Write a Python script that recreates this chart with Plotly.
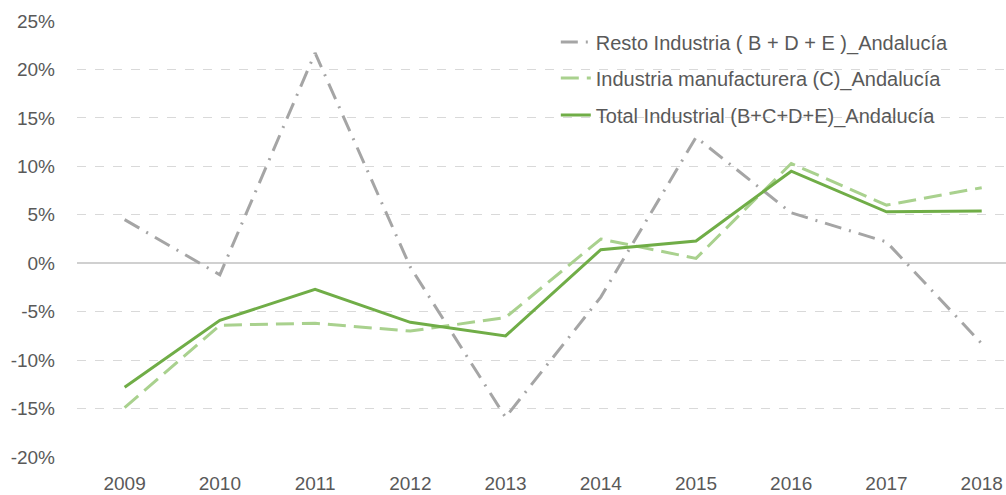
import plotly.graph_objects as go

years = ["2009", "2010", "2011", "2012", "2013", "2014", "2015", "2016", "2017", "2018"]
resto = [0.045, -0.012, 0.217, -0.004, -0.159, -0.035, 0.130, 0.052, 0.022, -0.083]
manuf = [-0.149, -0.064, -0.062, -0.070, -0.056, 0.025, 0.005, 0.103, 0.060, 0.078]
total = [-0.128, -0.059, -0.027, -0.061, -0.075, 0.014, 0.023, 0.095, 0.053, 0.054]

y_ticks = [-0.20, -0.15, -0.10, -0.05, 0.0, 0.05, 0.10, 0.15, 0.20, 0.25]
y_labels = ["-20%", "-15%", "-10%", "-5%", "0%", "5%", "10%", "15%", "20%", "25%"]

names = [
    "Resto Industria ( B + D + E )_Andalucía",
    "Industria manufacturera (C)_Andalucía",
    "Total Industrial (B+C+D+E)_Andalucía",
]

FONT = "Liberation Sans"
TXT = "#595959"
W, H = 1006, 495
L, R, T, B = 77.4, 0, 21, 38
PW, PH = W - L - R, H - T - B

fig = go.Figure()
fig.add_trace(go.Scatter(x=years, y=resto, mode="lines", name=names[0],
                         line=dict(color="#a5a5a5", width=3, dash="17px,8px,2px,8px"),
                         legend="legend", showlegend=True))
fig.add_trace(go.Scatter(x=years, y=manuf, mode="lines", name=names[1],
                         line=dict(color="#a9d18e", width=3, dash="18px,8px"),
                         legend="legend2", showlegend=True))
fig.add_trace(go.Scatter(x=years, y=total, mode="lines", name=names[2],
                         line=dict(color="#70ad47", width=3),
                         legend="legend3", showlegend=True))

def px_x(px):
    return (px - L) / PW

def px_y(py):
    return 1 - (py - T) / PH

leg_common = dict(xanchor="left", yanchor="middle",
                  bgcolor="rgba(0,0,0,0)", font=dict(family=FONT, size=20, color=TXT))
leg_x = px_x(556)
fig.update_layout(
    width=W, height=H,
    margin=dict(l=L, r=R, t=T, b=B, autoexpand=False),
    paper_bgcolor="white", plot_bgcolor="white",
    showlegend=True,
    font=dict(family=FONT, size=19, color=TXT),
    legend=dict(x=leg_x, y=px_y(42), **leg_common),
    legend2=dict(x=leg_x, y=px_y(78), **leg_common),
    legend3=dict(x=leg_x, y=px_y(115), **leg_common),
    xaxis=dict(type="category", range=[-0.5, 9.255], showgrid=False, showline=False,
               ticks="", ticklabelstandoff=13, tickfont=dict(family=FONT, size=19, color=TXT)),
    yaxis=dict(range=[-0.20, 0.25], tickvals=y_ticks, ticktext=y_labels, showgrid=True,
               gridcolor="#d9d9d9", griddash="dash", gridwidth=1,
               zeroline=True, zerolinecolor="#d0d0d0", zerolinewidth=1.5,
               showline=False, ticks="", ticklabelstandoff=21,
               tickfont=dict(family=FONT, size=19, color=TXT)),
)

fig.write_html(
    "out.html",
    config={"displayModeBar": False},
    post_script="document.body.style.margin='0';document.body.style.overflow='hidden';",
)
